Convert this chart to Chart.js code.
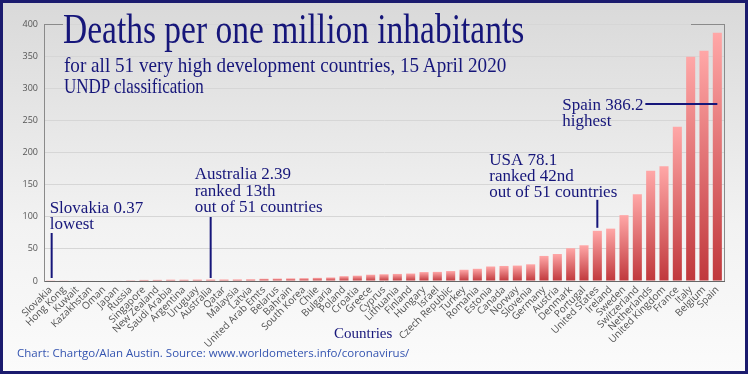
<!DOCTYPE html>
<html>
<head>
<meta charset="utf-8">
<script src="https://cdn.jsdelivr.net/npm/chart.js@4.4.1/dist/chart.umd.min.js"></script>
<style>
  html, body { margin: 0; padding: 0; }
  #wrap { position: relative; width: 748px; height: 374px; overflow: hidden;
          background: linear-gradient(#d9d9d9, #f2f2f2 60%, #fbfbfb); }
  #chart { position: absolute; left: 0; top: 0; }
  #frame { position: absolute; left: 0; top: 0; width: 748px; height: 374px; box-sizing: border-box;
           border: 3px solid #1b1b6e; pointer-events: none; }
  .txt { position: absolute; white-space: nowrap; line-height: 1; transform-origin: 0 0; }
  .serif { font-family: 'Liberation Serif', 'Times New Roman', serif; color: #16167a; }
  #title { left: 63px; top: 7px; font-size: 43px; }
  #sub1 { left: 64px; top: 54px; font-size: 22px; }
  #sub2 { left: 64px; top: 75px; font-size: 22px; }
  #xtitle { left: 334px; top: 326px; font-size: 15px; }
  #footer { left: 17px; top: 347px; font-size: 11.5px; font-family: 'Open Sans', sans-serif; color: #3454b0; }
</style>
</head>
<body>
<div id="wrap">
  <canvas id="chart" width="748" height="374"></canvas>
  <div id="title" class="txt serif">Deaths per one million inhabitants</div>
  <div id="sub1" class="txt serif">for all 51 very high development countries, 15 April 2020</div>
  <div id="sub2" class="txt serif">UNDP classification</div>
  <div id="xtitle" class="txt serif">Countries</div>
  <div id="footer" class="txt">Chart: Chartgo/Alan Austin. Source: www.worldometers.info/coronavirus/</div>
  <div id="frame"></div>
</div>
<script>
// Countries, ascending by deaths per million
const countries = ['Slovakia', 'Hong Kong', 'Kuwait', 'Kazakhstan', 'Oman', 'Japan', 'Russia', 'Singapore',
  'New Zealand', 'Saudi Arabia', 'Argentina', 'Uruguay', 'Australia', 'Qatar', 'Malaysia', 'Latvia',
  'United Arab Emts', 'Belarus', 'Bahrain', 'South Korea', 'Chile', 'Bulgaria', 'Poland', 'Croatia',
  'Greece', 'Cyprus', 'Lithuania', 'Finland', 'Hungary', 'Israel', 'Czech Republic', 'Turkey', 'Romania',
  'Estonia', 'Canada', 'Norway', 'Slovenia', 'Germany', 'Austria', 'Denmark', 'Portugal', 'United States',
  'Ireland', 'Sweden', 'Switzerland', 'Netherlands', 'United Kingdom', 'France', 'Italy', 'Belgium', 'Spain'];

const deaths = [0.37, 0.5, 0.6, 0.7, 0.8, 0.9, 1.2, 1.7, 1.8, 2.1, 2.1, 2.3, 2.39, 2.4, 2.5, 2.7,
  3.5, 3.8, 4.1, 4.4, 4.9, 5.5, 7.5, 8.3, 9.8, 10.5, 11, 11.6, 13.9, 14.2, 15.5, 17.5, 19,
  22.6, 23.4, 24, 26, 39, 42, 51, 55.6, 78.1, 81.5, 102.5, 135, 171.5, 178.5, 240, 349, 358.5, 386.2];

const yTicks = [0, 50, 100, 150, 200, 250, 300, 350, 400];

const navy = '#16167a';

// fit the serif headings to the reference widths
function fitWidth(id, px) {
  const el = document.getElementById(id);
  el.style.transform = 'scaleX(' + (px / el.offsetWidth) + ')';
}
fitWidth('title', 461);
fitWidth('sub1', 442);
fitWidth('sub2', 140);

// frame lines and the callouts
const notesPlugin = {
  id: 'notes',
  afterDatasetsDraw(chart) {
    const ctx = chart.ctx;
    const a = chart.chartArea;
    const x = chart.scales.x;
    const y = chart.scales.y;
    ctx.save();

    // right border and top corners
    ctx.strokeStyle = '#8a8a8a';
    ctx.lineWidth = 1;
    ctx.beginPath();
    ctx.moveTo(a.right + 0.5, a.top);
    ctx.lineTo(a.right + 0.5, a.bottom);
    ctx.moveTo(a.left, a.top + 0.5);
    ctx.lineTo(a.left + 19, a.top + 0.5);
    ctx.moveTo(a.right - 33, a.top + 0.5);
    ctx.lineTo(a.right + 0.5, a.top + 0.5);
    ctx.stroke();

    ctx.strokeStyle = navy;
    ctx.fillStyle = navy;
    ctx.lineWidth = 2;
    ctx.font = "17px 'Liberation Serif', serif";
    ctx.textBaseline = 'alphabetic';
    const base = a.bottom;

    function vline(px, y1, y2) {
      ctx.beginPath();
      ctx.moveTo(px, y1);
      ctx.lineTo(px, y2);
      ctx.stroke();
    }
    function lines(tx, ty, arr, step) {
      arr.forEach((s, i) => ctx.fillText(s, tx, ty + i * step));
    }

    // Slovakia
    let px = x.getPixelForValue(0) + 1;
    vline(px, base - 3, base - 48);
    lines(px - 2, base - 68, ['Slovakia 0.37', 'lowest'], 16);

    // Australia
    px = x.getPixelForValue(12);
    vline(px, base - 3, base - 64);
    lines(px - 16, base - 102, ['Australia 2.39', 'ranked 13th', 'out of 51 countries'], 16.5);

    // USA
    px = x.getPixelForValue(41);
    const usTop = y.getPixelForValue(deaths[41]);
    vline(px, usTop - 3, usTop - 31);
    lines(px - 108, usTop - 66, ['USA 78.1', 'ranked 42nd', 'out of 51 countries'], 16);

    // Spain
    px = x.getPixelForValue(50);
    const sy = a.top + 80;
    ctx.beginPath();
    ctx.moveTo(px, sy);
    ctx.lineTo(px - 72, sy);
    ctx.stroke();
    lines(px - 155, sy + 6, ['Spain 386.2', 'highest'], 15.5);

    ctx.restore();
  }
};

new Chart(document.getElementById('chart'), {
  type: 'bar',
  data: {
    labels: countries,
    datasets: [{
      label: 'Deaths per million',
      data: deaths,
      backgroundColor: function(c) {
        const chart = c.chart;
        const a = chart.chartArea;
        if (!a) return '#e07070';
        const top = chart.scales.y.getPixelForValue(deaths[c.dataIndex]);
        const g = chart.ctx.createLinearGradient(0, top, 0, a.bottom);
        g.addColorStop(0, '#ffa7a7');
        g.addColorStop(1, '#c0383c');
        return g;
      },
      borderWidth: 0,
      barPercentage: 0.68,
      categoryPercentage: 1
    }]
  },
  options: {
    responsive: false,
    devicePixelRatio: 1,
    animation: false,
    layout: { padding: { top: 24, right: 24, left: 0, bottom: 0 } },
    plugins: {
      legend: { display: false },
      tooltip: { enabled: false }
    },
    scales: {
      x: {
        grid: { display: false, drawTicks: false },
        border: { color: '#666666', width: 1 },
        ticks: {
          autoSkip: false,
          minRotation: 45,
          maxRotation: 45,
          padding: 3,
          color: '#505050',
          font: { family: 'Open Sans', size: 10 }
        },
        afterFit(s) { s.height = 93; s.paddingLeft = 0; s.paddingRight = 0; }
      },
      y: {
        min: 0,
        max: 400,
        afterBuildTicks(s) { s.ticks = yTicks.map(v => ({ value: v })); },
        grid: { color: '#d6d6d6', drawTicks: false },
        border: { color: '#8a8a8a', width: 1 },
        ticks: {
          padding: 6,
          color: '#555555',
          font: { family: 'Open Sans', size: 9 }
        },
        afterFit(s) { s.width = 44; }
      }
    }
  },
  plugins: [notesPlugin]
});
</script>
</body>
</html>
